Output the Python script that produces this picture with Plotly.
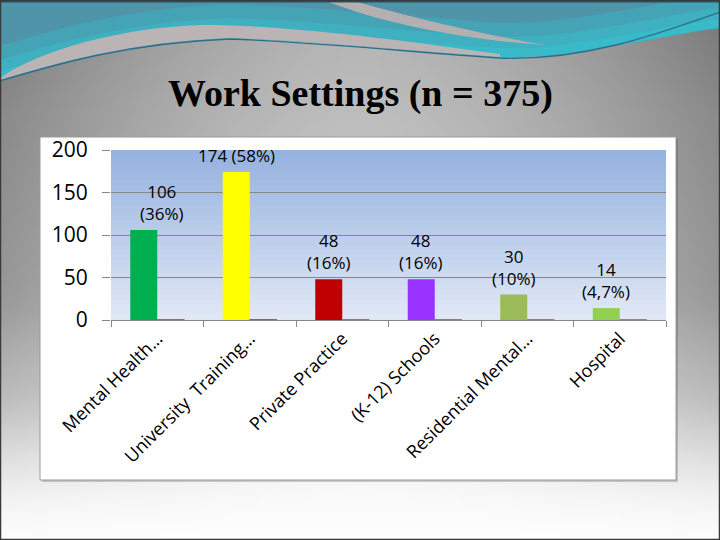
import plotly.graph_objects as go
import zlib, struct, base64

# ---------------- data ----------------
categories = ["Mental Health…", "University  Training…", "Private Practice",
              "(K-12) Schools", "Residential Mental…", "Hospital"]
counts = [106, 174, 48, 48, 30, 14]
percents = ["36%", "58%", "16%", "16%", "10%", "4,7%"]
shares = [0.36, 0.58, 0.16, 0.16, 0.10, 0.047]
bar_colors = ["#00B050", "#FFFF00", "#C00000", "#9933FF", "#9BBB59", "#92D050"]
y_ticks = [0, 50, 100, 150, 200]
title_text = "Work Settings (n = 375)"

# ---------------- geometry helpers (pixel -> paper) ----------------
W, H = 720, 540
PLOT_L, PLOT_R, PLOT_T, PLOT_B = 111, 666, 150, 320


def px(x):
    return x / W


def py(y):
    return 1 - y / H


def fmt(p):
    return f"{px(p[0]):.5f},{py(p[1]):.5f}"


def curve(*pts):
    return " C " + " ".join(fmt(p) for p in pts)


def shifted(seg, d):
    return tuple((p[0], p[1] - d) for p in seg)


# ---------------- slide background (smooth gray vignette as tiny PNG) ----------------
def interp(v, xs, ys):
    if v <= xs[0]:
        return ys[0]
    for i in range(1, len(xs)):
        if v <= xs[i]:
            t = (v - xs[i - 1]) / (xs[i] - xs[i - 1])
            return ys[i - 1] + t * (ys[i] - ys[i - 1])
    return ys[-1]


def make_bg_png(w=72, h=54):
    rows = []
    for j in range(h):
        y = (j + 0.5) * H / h
        A = interp(y, [0, 110, 300, 430, 500, 540], [78, 66, 48, 20, 4, 0])
        B = interp(y, [0, 110, 300, 400, 460, 520, 540], [58, 52, 55, 40, 18, 4, 2])
        row = []
        for i in range(w):
            x = (i + 0.5) * W / w
            v = 255 - A - B * (abs(x - 360) / 360) ** 1.6
            row.append(max(0, min(255, int(round(v)))))
        rows.append(row)
    raw = b"".join(b"\x00" + bytes(r) for r in rows)

    def chunk(t, d):
        c = struct.pack(">I", len(d)) + t + d
        return c + struct.pack(">I", zlib.crc32(t + d) & 0xFFFFFFFF)

    png = (b"\x89PNG\r\n\x1a\n"
           + chunk(b"IHDR", struct.pack(">IIBBBBB", w, h, 8, 0, 0, 0, 0))
           + chunk(b"IDAT", zlib.compress(raw))
           + chunk(b"IEND", b""))
    return "data:image/png;base64," + base64.b64encode(png).decode()


shapes = []

# ---------------- teal wave at the top ----------------
teal_start = (720, 28)
teal_segs = [((680, 32), (620, 48), (540, 56)),
             ((530, 56.5), (510, 57), (500, 57)),
             ((420, 52), (330, 42), (230, 38)),
             ((130, 42), (60, 62), (0, 80))]


def seg_path(segs):
    return "".join(curve(*sg) for sg in segs)


teal_path = ("M " + fmt((0, 0)) + " L " + fmt((720, 0)) + " L " + fmt(teal_start)
             + seg_path(teal_segs) + " Z")
shapes.append(dict(type="path", xref="paper", yref="paper", layer="below",
                   path=teal_path, fillcolor="#5094aa", line=dict(width=0)))


def reverse_segs(start, segs):
    pts = [start]
    for s in segs:
        pts.append(s[-1])
    out = []
    for k in range(len(segs) - 1, -1, -1):
        s = segs[k]
        out.append((s[1], s[0], pts[k]))
    return pts[-1], out


for d, op in [(34, 0.30), (20, 0.35), (9, 0.45)]:
    up_start = (teal_start[0], teal_start[1] - d)
    up_segs = [shifted(s, d) for s in teal_segs]
    end_pt, back = reverse_segs(teal_start, teal_segs)
    p = "M " + fmt(up_start) + seg_path(up_segs)
    p += " L " + fmt(end_pt) + seg_path(back) + " Z"
    shapes.append(dict(type="path", xref="paper", yref="paper", layer="below", path=p,
                       fillcolor="#30c8d4", opacity=op, line=dict(width=0)))

# gray swoosh under the left teal area
g1 = ("M " + fmt((0, 78)) + curve((40, 50), (120, 28), (200, 25))
      + curve((280, 24), (400, 40), (500, 54))
      + " L " + fmt((500, 57))
      + curve((420, 52), (330, 42), (230, 38))
      + curve((130, 42), (60, 62), (0, 80)) + " Z")
shapes.append(dict(type="path", xref="paper", yref="paper", layer="below", path=g1,
                   fillcolor="#bab4b5", line=dict(width=0)))

# diagonal gray swoosh from the top
g2 = ("M " + fmt((323, 0)) + " L " + fmt((350, 0))
      + curve((400, 14), (470, 32), (545, 45))
      + curve((470, 40), (390, 26), (323, 0)) + " Z")
shapes.append(dict(type="path", xref="paper", yref="paper", layer="below", path=g2,
                   fillcolor="#b4afb0", line=dict(width=0)))

# thin dark line along the wave
line_path = ("M " + fmt((0, 81)) + curve((60, 63), (130, 43), (230, 39))
             + curve((330, 43), (420, 53), (500, 58))
             + curve((580, 61), (650, 37), (720, 12)))
shapes.append(dict(type="path", xref="paper", yref="paper", layer="below", path=line_path,
                   fillcolor="rgba(0,0,0,0)", line=dict(color="#2c6f8c", width=1.3)))

# top dark strip
shapes.append(dict(type="rect", xref="paper", yref="paper", layer="below",
                   x0=0, x1=1, y0=py(2.5), y1=1, fillcolor="#1f5767", line=dict(width=0)))

# ---------------- chart box ----------------
BOX_L, BOX_R, BOX_T, BOX_B = 40, 676, 137, 480
shapes.append(dict(type="rect", xref="paper", yref="paper", layer="below",
                   x0=px(BOX_L + 2), x1=px(BOX_R + 2), y0=py(BOX_B + 2), y1=py(BOX_T + 2),
                   fillcolor="rgba(0,0,0,0.18)", line=dict(width=0)))
shapes.append(dict(type="rect", xref="paper", yref="paper", layer="below",
                   x0=px(BOX_L), x1=px(BOX_R), y0=py(BOX_B), y1=py(BOX_T),
                   fillcolor="#ffffff", line=dict(color="#9a9a9a", width=1)))

# plot-area vertical gradient
top_c = (150, 178, 223)
bot_c = (224, 232, 246)
n_bands = 34
for k in range(n_bands):
    t = k / (n_bands - 1)
    c = tuple(int(round(top_c[i] + (bot_c[i] - top_c[i]) * t)) for i in range(3))
    y0 = PLOT_T + (PLOT_B - PLOT_T) * k / n_bands
    y1 = PLOT_T + (PLOT_B - PLOT_T) * (k + 1) / n_bands
    shapes.append(dict(type="rect", xref="paper", yref="paper", layer="below",
                       x0=px(PLOT_L), x1=px(PLOT_R), y0=py(y1 + 0.3), y1=py(y0),
                       fillcolor=f"rgb{c}", line=dict(width=0)))

# slide border
shapes.append(dict(type="rect", xref="paper", yref="paper", layer="above",
                   x0=0, x1=1, y0=0, y1=1, fillcolor="rgba(0,0,0,0)",
                   line=dict(color="#3a3a3a", width=2.5)))

# ---------------- traces ----------------
cat_w = (PLOT_R - PLOT_L) / len(categories)
bar_px = 27
bargap = 1 - 2 * bar_px / cat_w

fig = go.Figure()
fig.add_trace(go.Bar(x=categories, y=counts, marker=dict(color=bar_colors, line=dict(width=0)),
                     hoverinfo="skip"))
fig.add_trace(go.Bar(x=categories, y=shares,
                     marker=dict(color="#C0504D", line=dict(color="#C0504D", width=1)),
                     hoverinfo="skip"))

# ---------------- data labels ----------------
annotations = []
for i, (cat, c, p) in enumerate(zip(categories, counts, percents)):
    sep = " " if c == max(counts) else "<br>"
    nudge = 18 if i == 0 else 0
    annotations.append(dict(x=cat, y=c, xref="x", yref="y", text=f"{c}{sep}({p})",
                            showarrow=False, yanchor="bottom", xanchor="center",
                            xshift=-bar_px / 2 + nudge, yshift=3,
                            font=dict(family="Open Sans", size=17, color="#000000")))

annotations.append(dict(x=0.5, y=py(93), xref="paper", yref="paper", text=f"<b>{title_text}</b>",
                        showarrow=False, xanchor="center", yanchor="middle",
                        font=dict(family="Liberation Serif", size=38, color="#000000")))

fig.update_layout(
    width=W, height=H,
    margin=dict(l=0, r=0, t=0, b=0, pad=0, autoexpand=False),
    paper_bgcolor="#ffffff",
    plot_bgcolor="rgba(0,0,0,0)",
    barmode="group", bargap=bargap, bargroupgap=0,
    showlegend=False,
    hovermode=False,
    shapes=shapes,
    annotations=annotations,
    images=[dict(source=make_bg_png(), xref="paper", yref="paper", x=0, y=1,
                 sizex=1, sizey=1, xanchor="left", yanchor="top",
                 sizing="stretch", layer="below")],
    xaxis=dict(domain=[px(PLOT_L), px(PLOT_R)], automargin=False, showgrid=False, showline=True,
               linecolor="#878787", linewidth=1, ticks="outside", tickson="boundaries",
               ticklen=6, tickcolor="#878787", tickangle=-45,
               tickfont=dict(family="Open Sans", size=18, color="#000000"),
               fixedrange=True),
    yaxis=dict(domain=[py(PLOT_B), py(PLOT_T)], automargin=False, range=[0, 200], tickvals=y_ticks,
               showgrid=True, gridcolor="#878787", gridwidth=1, zeroline=False,
               showline=False, ticks="outside", ticklen=8, tickcolor="#878787",
               ticklabelstandoff=10,
               tickfont=dict(family="Open Sans", size=21, color="#000000"),
               fixedrange=True),
)

fig.write_html("out.html", config={"displayModeBar": False},
               post_script="document.body.style.margin='0';")
